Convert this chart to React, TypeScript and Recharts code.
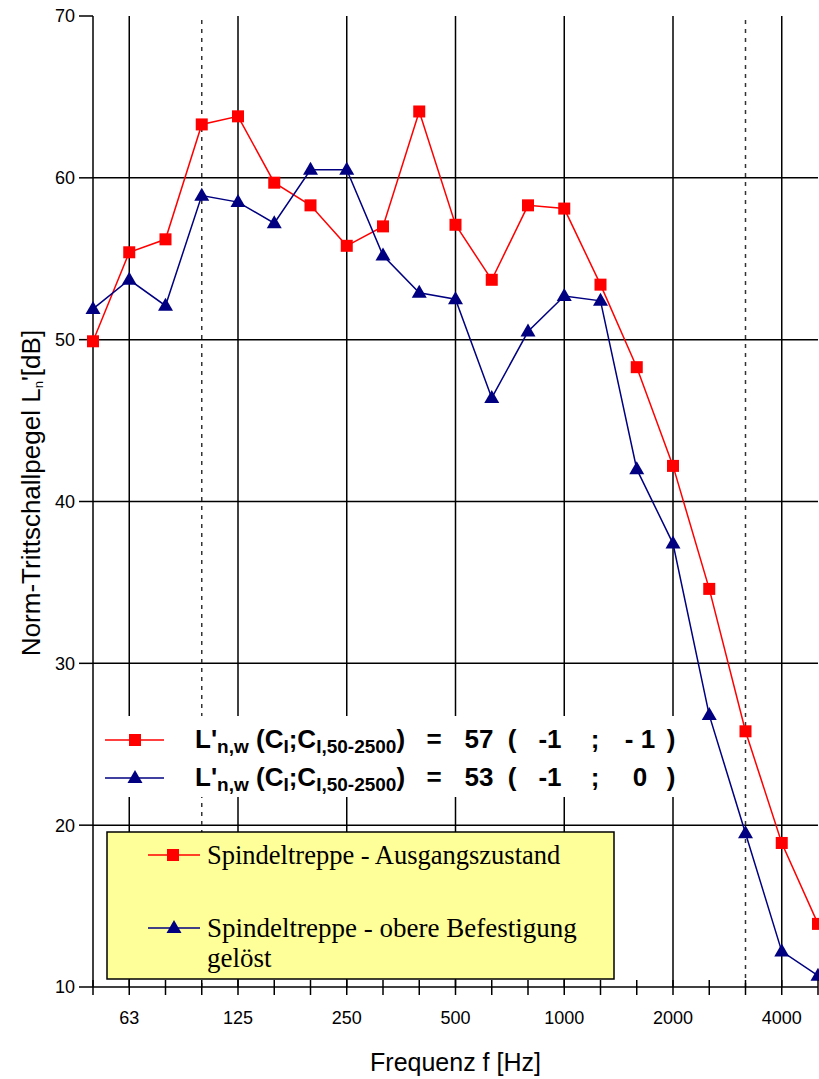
import { LineChart, Line, XAxis, YAxis, ReferenceLine } from 'recharts';

const freqLabels = ['50', '63', '80', '100', '125', '160', '200', '250', '315', '400', '500', '630', '800', '1000', '1250', '1600', '2000', '2500', '3150', '4000', '5000'];
const labeledFreqs = ['63', '125', '250', '500', '1000', '2000', '4000'];
const dottedFreqs = ['100', '3150'];
const ausgangszustand = [49.9, 55.4, 56.2, 63.3, 63.8, 59.7, 58.3, 55.8, 57.0, 64.1, 57.1, 53.7, 58.3, 58.1, 53.4, 48.3, 42.2, 34.6, 25.8, 18.9, 13.9];
const befestigungGeloest = [51.9, 53.7, 52.1, 58.9, 58.5, 57.2, 60.5, 60.5, 55.2, 52.9, 52.5, 46.4, 50.5, 52.7, 52.4, 42.0, 37.4, 26.8, 19.5, 12.2, 10.7];
const yTicks = [10, 20, 30, 40, 50, 60, 70];
const yGrid = [20, 30, 40, 50, 60];

const data = freqLabels.map((f, i) => ({
    idx: i,
    f,
    ausgang: ausgangszustand[i],
    geloest: befestigungGeloest[i],
}));
const xTicks = freqLabels.map((_, i) => i);

const RED = '#ff0000';
const NAVY = '#000080';

const Square = (props: any) => {
    const { cx, cy } = props;
    if (cx == null || cy == null) return null;
    return <rect x={cx - 6} y={cy - 6} width={12} height={12} fill={RED} />;
};

const Triangle = (props: any) => {
    const { cx, cy } = props;
    if (cx == null || cy == null) return null;
    return <polygon points={`${cx},${cy - 8} ${cx - 7.5},${cy + 5} ${cx + 7.5},${cy + 5}`} fill={NAVY} />;
};

const FreqTick = (props: any) => {
    const { x, y, payload } = props;
    const label = freqLabels[payload.value];
    return (
        <g>
            <line x1={x} x2={x} y1={y - 7} y2={y + 8} stroke="#000" strokeWidth={1.5} />
            {labeledFreqs.includes(label) && (
                <text x={x} y={y + 37} textAnchor="middle" fontSize={18} fontFamily="Liberation Sans, Arial, sans-serif" fill="#000">
                    {label}
                </text>
            )}
        </g>
    );
};

const bold = { fontFamily: 'Liberation Sans, Arial, sans-serif', fontWeight: 700, fill: '#000' };

function FormulaRow({ y, value, c1, c2, color, marker }: any) {
    return (
        <g>
            <line x1={105} x2={164} y1={y - 8} y2={y - 8} stroke={color} strokeWidth={1.5} />
            {marker}
            <text x={195} y={y} fontSize={26} {...bold}>
                L'<tspan fontSize={19} dy={5}>n,w</tspan>
                <tspan fontSize={26} dy={-5}> (C</tspan>
                <tspan fontSize={19} dy={5}>I</tspan>
                <tspan fontSize={26} dy={-5}>;C</tspan>
                <tspan fontSize={19} dy={5}>I,50-2500</tspan>
                <tspan fontSize={26} dy={-5}>)</tspan>
            </text>
            <text x={434} y={y} fontSize={26} textAnchor="middle" {...bold}>=</text>
            <text x={479} y={y} fontSize={26} textAnchor="middle" {...bold}>{value}</text>
            <text x={512} y={y} fontSize={26} textAnchor="middle" {...bold}>(</text>
            <text x={550} y={y} fontSize={26} textAnchor="middle" {...bold}>{c1}</text>
            <text x={595} y={y} fontSize={26} textAnchor="middle" {...bold}>;</text>
            <text x={640} y={y} fontSize={26} textAnchor="middle" {...bold}>{c2}</text>
            <text x={671} y={y} fontSize={26} textAnchor="middle" {...bold}>)</text>
        </g>
    );
}

function Overlay() {
    const serif = { fontFamily: 'Liberation Serif, Times New Roman, serif', fill: '#000' };
    return (
        <svg width={819} height={1079} style={{ position: 'absolute', left: 0, top: 0, pointerEvents: 'none' }}>
            {/* y axis title */}
            <text
                transform="translate(40,493) rotate(-90)"
                textAnchor="middle"
                fontSize={26}
                fontFamily="Liberation Sans, Arial, sans-serif"
                fill="#000"
            >
                Norm-Trittschallpegel L<tspan fontSize={13} dy={3}>n</tspan>
                <tspan dy={-3}>'[dB]</tspan>
            </text>

            {/* weighted index block */}
            <rect x={95} y={716} width={595} height={81} fill="#fff" />
            <FormulaRow
                y={748}
                value="57"
                c1="-1"
                c2="- 1"
                color={RED}
                marker={<rect x={129} y={734} width={12} height={12} fill={RED} />}
            />
            <FormulaRow
                y={786}
                value="53"
                c1="-1"
                c2="0"
                color={NAVY}
                marker={<polygon points="135,770 127.5,783 142.5,783" fill={NAVY} />}
            />

            {/* legend */}
            <rect x={107} y={832} width={507} height={147} fill="#ffff99" stroke="#000" strokeWidth={1.5} />
            <line x1={148} x2={200} y1={855} y2={855} stroke={RED} strokeWidth={1.5} />
            <rect x={167} y={849} width={12} height={12} fill={RED} />
            <text x={207} y={864} fontSize={26.5} {...serif}>Spindeltreppe - Ausgangszustand</text>
            <line x1={148} x2={200} y1={928} y2={928} stroke={NAVY} strokeWidth={1.5} />
            <polygon points="174,920 166.5,933 181.5,933" fill={NAVY} />
            <text x={207} y={937} fontSize={27} {...serif}>Spindeltreppe - obere Befestigung</text>
            <text x={207} y={967} fontSize={27} {...serif}>gelöst</text>
        </svg>
    );
}

export default function App() {
    return (
        <div style={{ position: 'absolute', left: 0, top: 0, width: 819, height: 1079, background: '#fff' }}>
            <LineChart width={819} height={1079} data={data} margin={{ top: 16, right: 1, left: 0, bottom: 0 }}>
                {yGrid.map((v) => (
                    <ReferenceLine key={`h-${v}`} y={v} stroke="#000" strokeWidth={1.5} />
                ))}
                {labeledFreqs.map((f) => (
                    <ReferenceLine key={`v-${f}`} x={freqLabels.indexOf(f)} stroke="#000" strokeWidth={1.5} />
                ))}
                {dottedFreqs.map((f) => (
                    <ReferenceLine key={`d-${f}`} x={freqLabels.indexOf(f)} stroke="#333" strokeWidth={1.5} strokeDasharray="4 5" />
                ))}
                <XAxis
                    type="number"
                    dataKey="idx"
                    domain={[0, 20]}
                    ticks={xTicks}
                    interval={0}
                    height={92}
                    tickSize={0}
                    tickMargin={0}
                    tickLine={false}
                    axisLine={{ stroke: '#000', strokeWidth: 1.5 }}
                    tick={<FreqTick />}
                    label={{
                        value: 'Frequenz f [Hz]',
                        position: 'insideBottom',
                        offset: 8,
                        style: { fontSize: 25, fontFamily: 'Liberation Sans, Arial, sans-serif', fill: '#000' },
                    }}
                />
                <YAxis
                    type="number"
                    domain={[10, 70]}
                    ticks={yTicks}
                    width={93}
                    tickSize={14}
                    tickMargin={4}
                    axisLine={{ stroke: '#000', strokeWidth: 1.5 }}
                    tickLine={{ stroke: '#000', strokeWidth: 1.5 }}
                    tick={{ fontSize: 18, fill: '#000', fontFamily: 'Liberation Sans, Arial, sans-serif' }}
                />
                <Line
                    type="linear"
                    dataKey="ausgang"
                    stroke={RED}
                    strokeWidth={1.5}
                    dot={<Square />}
                    activeDot={false}
                    isAnimationActive={false}
                />
                <Line
                    type="linear"
                    dataKey="geloest"
                    stroke={NAVY}
                    strokeWidth={1.5}
                    dot={<Triangle />}
                    activeDot={false}
                    isAnimationActive={false}
                />
            </LineChart>
            <Overlay />
        </div>
    );
}
